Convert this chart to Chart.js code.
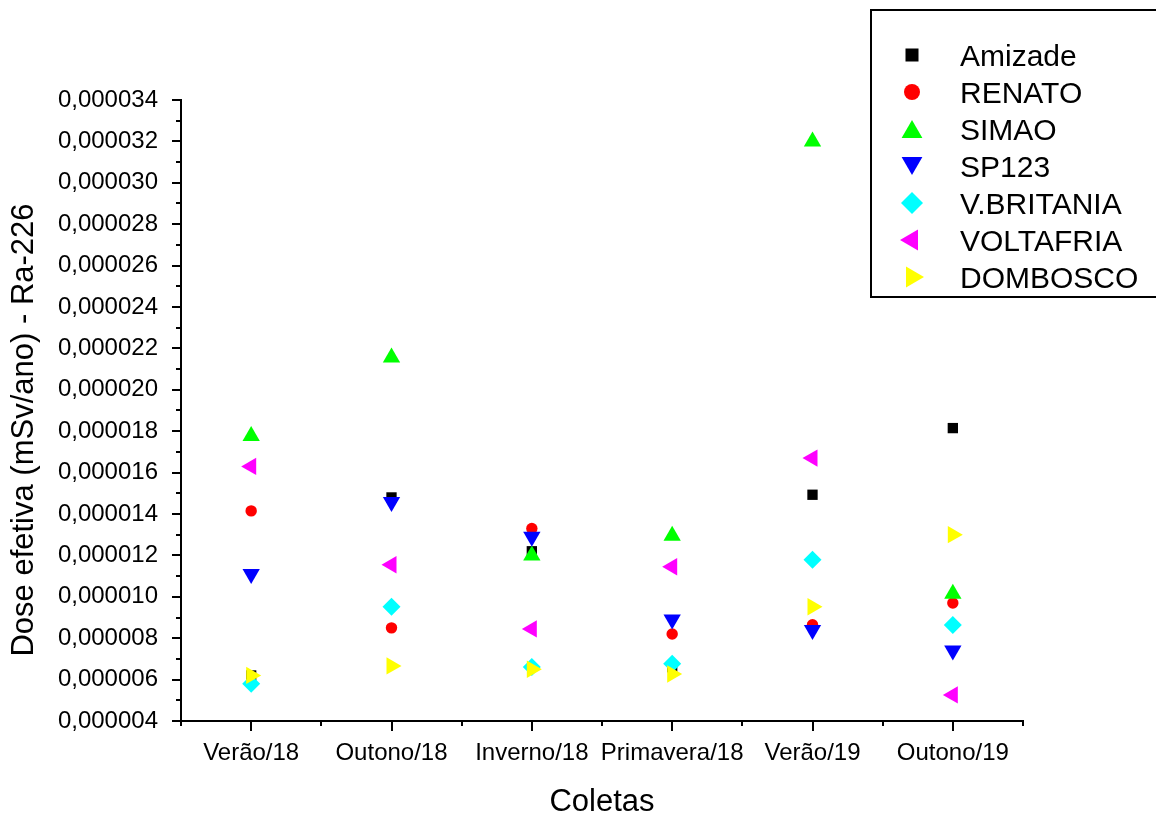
<!DOCTYPE html>
<html>
<head>
<meta charset="utf-8">
<script src="https://cdn.jsdelivr.net/npm/chart.js@4/dist/chart.umd.min.js"></script>
<style>
html,body{margin:0;padding:0;background:#ffffff;}
#wrap{width:1156px;height:813px;position:relative;}
canvas{display:block;}
</style>
</head>
<body>
<div id="wrap"><canvas id="c" width="1156" height="813"></canvas></div>
<script>
// ---------- data ----------
const categories = ['Verão/18', 'Outono/18', 'Inverno/18', 'Primavera/18', 'Verão/19', 'Outono/19'];
const seriesNames = ['Amizade', 'RENATO', 'SIMAO', 'SP123', 'V.BRITANIA', 'VOLTAFRIA', 'DOMBOSCO'];
const amizade   = [0.00000620, 0.00001480, 0.00001220, 0.00000660, 0.00001493, 0.00001815];
const renato    = [0.00001415, 0.00000850, 0.00001330, 0.00000820, 0.00000865, 0.00000970];
const simao     = [0.00001777, 0.00002156, 0.00001200, 0.00001295, 0.00003200, 0.00001015];
const sp123     = [0.00001110, 0.00001458, 0.00001290, 0.00000890, 0.00000840, 0.00000740];
const vbritania = [0.00000580, 0.00000952, 0.00000661, 0.00000676, 0.00001179, 0.00000864];
const voltafria = [0.00001630, 0.00001155, 0.00000845, 0.00001145, 0.00001670, 0.00000526];
const dombosco  = [0.00000620, 0.00000666, 0.00000650, 0.00000627, 0.00000952, 0.00001300];
const yTicks = [0.000004, 0.000006, 0.000008, 0.000010, 0.000012, 0.000014, 0.000016, 0.000018,
                0.000020, 0.000022, 0.000024, 0.000026, 0.000028, 0.000030, 0.000032, 0.000034];
const xTitle = 'Coletas';
const yTitle = 'Dose efetiva (mSv/ano) - Ra-226';

// ---------- styles ----------
const FONT = '"Liberation Sans", Arial, sans-serif';
const seriesValues = [amizade, renato, simao, sp123, vbritania, voltafria, dombosco];
const seriesColors = ['#000000', '#ff0000', '#00ff00', '#0000ff', '#00ffff', '#ff00ff', '#ffff00'];
const seriesStyles = ['rect', 'circle', 'triangle', 'triangle', 'rectRot', 'triangle', 'triangle'];
const seriesRotation = [0, 0, 0, 180, 0, 270, 90];
const seriesRadius = [7.3, 5.7, 10, 10, 9, 10, 10];
const legendRadius = [9.2, 8, 12, 12, 11, 12, 12];

const datasets = seriesNames.map((name, k) => ({
  label: name,
  data: seriesValues[k].map((v, i) => ({x: i, y: v})),
  pointStyle: seriesStyles[k],
  pointRotation: seriesRotation[k],
  pointRadius: seriesRadius[k],
  pointHoverRadius: seriesRadius[k],
  pointBackgroundColor: seriesColors[k],
  pointBorderColor: seriesColors[k],
  pointBorderWidth: 0,
  showLine: false,
  order: seriesNames.length - k
}));

const decor = {
  id: 'decor',
  afterDraw(chart) {
    const {ctx, chartArea: a, scales: {x, y}} = chart;
    ctx.save();
    ctx.strokeStyle = '#000';
    ctx.lineWidth = 2;
    ctx.beginPath();
    // y major + minor ticks
    yTicks.forEach((v, i) => {
      const py = Math.round(y.getPixelForValue(v));
      ctx.moveTo(a.left, py); ctx.lineTo(a.left - 9, py);
      if (i < yTicks.length - 1) {
        const pm = Math.round(y.getPixelForValue((v + yTicks[i + 1]) / 2));
        ctx.moveTo(a.left, pm); ctx.lineTo(a.left - 5, pm);
      }
    });
    // x major + minor ticks
    categories.forEach((c, i) => {
      const px = Math.round(x.getPixelForValue(i));
      ctx.moveTo(px, a.bottom); ctx.lineTo(px, a.bottom + 10);
    });
    for (let i = 0; i <= categories.length; i++) {
      const px = Math.round(x.getPixelForValue(i - 0.5));
      ctx.moveTo(px, a.bottom); ctx.lineTo(px, a.bottom + 5);
    }
    ctx.stroke();

    // axis titles
    ctx.fillStyle = '#000';
    ctx.font = '31px ' + FONT;
    ctx.textAlign = 'center';
    ctx.textBaseline = 'alphabetic';
    ctx.fillText(xTitle, (a.left + a.right) / 2, 811);
    ctx.save();
    ctx.translate(33, 430);
    ctx.rotate(-Math.PI / 2);
    ctx.fillText(yTitle, 0, 0);
    ctx.restore();

    // legend box
    ctx.lineWidth = 2;
    ctx.strokeRect(871, 10, 400, 287);
    ctx.font = '30px ' + FONT;
    ctx.textAlign = 'left';
    chart.data.datasets.forEach((ds, k) => {
      const cy = 55 + k * 37;
      const r = legendRadius[k];
      let my = cy;
      if (seriesStyles[k] === 'triangle' && seriesRotation[k] === 0) my = cy + r / 4;
      if (seriesStyles[k] === 'triangle' && seriesRotation[k] === 180) my = cy - r / 4;
      ctx.fillStyle = seriesColors[k];
      Chart.helpers.drawPoint(ctx, {pointStyle: seriesStyles[k], rotation: seriesRotation[k], radius: r, borderWidth: 0}, 912, my);
      ctx.fillStyle = '#000';
      ctx.fillText(ds.label, 960, cy + 10.7);
    });
    ctx.restore();
  }
};

new Chart(document.getElementById('c'), {
  type: 'scatter',
  data: {datasets},
  options: {
    responsive: false,
    animation: false,
    devicePixelRatio: 1,
    layout: {padding: {top: 100, right: 133, left: 0, bottom: 0}},
    plugins: {legend: {display: false}, tooltip: {enabled: false}},
    events: [],
    scales: {
      x: {
        type: 'linear',
        position: 'bottom',
        min: -0.5,
        max: 5.5,
        grid: {display: false, drawTicks: false},
        border: {display: true, color: '#000', width: 2},
        ticks: {
          color: '#000',
          font: {family: FONT, size: 24},
          padding: 18,
          autoSkip: false,
          maxRotation: 0,
          callback: v => categories[v] !== undefined ? categories[v] : ''
        },
        afterBuildTicks: s => { s.ticks = categories.map((c, i) => ({value: i})); },
        afterFit: s => { s.height = 92; }
      },
      y: {
        type: 'linear',
        position: 'left',
        min: 0.000004,
        max: 0.000034,
        grid: {display: false, drawTicks: false},
        border: {display: true, color: '#000', width: 2},
        ticks: {
          color: '#000',
          font: {family: FONT, size: 24},
          padding: 23,
          callback: v => v.toFixed(6).replace('.', ',')
        },
        afterBuildTicks: s => { s.ticks = yTicks.map(v => ({value: v})); },
        afterFit: s => { s.width = 181; }
      }
    }
  },
  plugins: [decor]
});
</script>
</body>
</html>
